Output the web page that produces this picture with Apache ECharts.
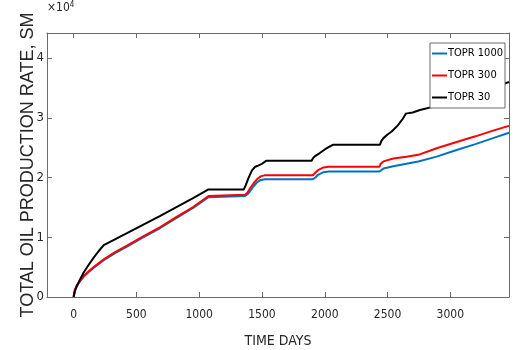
<!DOCTYPE html>
<html>
<head>
<meta charset="utf-8">
<script src="https://cdn.jsdelivr.net/npm/echarts@6/dist/echarts.min.js"></script>
<style>
  html, body { margin: 0; padding: 0; background: #fff; }
  #chart { width: 518px; height: 350px; }
</style>
</head>
<body>
<div id="chart"></div>
<script>
// Cumulative oil production for three TOPR settings (time in days).
const seriesNames = ['TOPR 1000', 'TOPR 300', 'TOPR 30'];

// Shared time samples for the TOPR 1000 and TOPR 300 runs
const daysHigh = [0, 10, 25, 50, 80, 120, 160, 240, 330, 425, 550, 690, 820, 955, 1074,
  1365, 1385, 1405, 1432, 1460, 1490, 1525, 1905, 1925, 1950, 1990, 2030, 2068,
  2435, 2445, 2467, 2546, 2650, 2745, 2891, 3050, 3200, 3340, 3467];

const topr1000 = [0, 1150, 1850, 2600, 3400, 4200, 4900, 6150, 7350, 8450, 9950, 11550, 13250, 14950, 16700,
  16900, 17200, 17700, 18500, 19200, 19600, 19700, 19700, 20000, 20500, 20900, 21000, 21000,
  21000, 21200, 21500, 21900, 22300, 22700, 23500, 24600, 25600, 26600, 27500];

const topr300 = [0, 1200, 1900, 2700, 3500, 4300, 5000, 6300, 7500, 8600, 10100, 11700, 13400, 15100, 16900,
  17100, 17500, 18200, 19000, 19700, 20200, 20400, 20400, 20800, 21300, 21700, 21800, 21800,
  21800, 22300, 22700, 23200, 23500, 23800, 24900, 25950, 26900, 27850, 28650];

// Time samples for the TOPR 30 run
const daysLow = [0, 10, 25, 50, 80, 120, 160, 200, 240, 425, 690, 955, 1074, 1355, 1370, 1392, 1420,
  1446, 1470, 1500, 1533, 1895, 1905, 1923, 1960, 2000, 2040, 2068, 2440, 2450, 2467, 2500,
  2533, 2580, 2620, 2645, 2700, 2758, 2891, 3050, 3200, 3340, 3467];

const topr30 = [0, 1000, 1800, 2900, 4100, 5400, 6600, 7700, 8700, 10700, 13600, 16600, 18000, 18000, 18700, 19900, 21200,
  21800, 22000, 22300, 22800, 22800, 23200, 23600, 24100, 24700, 25200, 25500, 25500, 26100, 26600, 27200,
  27700, 28700, 29800, 30700, 30900, 31300, 32000, 33100, 34150, 35100, 36000];

const xTicks = [0, 500, 1000, 1500, 2000, 2500, 3000];
const yTickStep = 10000;

const colors = ['#0072BD', '#FF0000', '#000000'];
const narrow = '"Liberation Sans Narrow", "DejaVu Sans Condensed", "Liberation Sans", sans-serif';
const regular = '"Liberation Sans", Arial, sans-serif';
const axisGray = '#6b6b6b';
const textColor = '#262626';

const zip = (xs, ys) => xs.map((x, i) => [x, ys[i]]);

const xRange = { min: -212, max: 3467 };
const yRange = { min: 0, max: 44200 };

const chart = echarts.init(document.getElementById('chart'), null, { renderer: 'canvas' });

const tickStyle = { show: true, inside: true, length: 5, lineStyle: { color: axisGray, width: 1 } };
const frameLine = { show: true, onZero: false, lineStyle: { color: axisGray, width: 1 } };

chart.setOption({
  backgroundColor: '#fff',
  animation: false,
  grid: { left: 47, right: 9, top: 33, bottom: 53, containLabel: false, outerBoundsMode: 'none' },
  legend: {
    data: seriesNames,
    orient: 'vertical',
    right: 13,
    top: 43,
    icon: 'rect',
    itemWidth: 15,
    itemHeight: 2,
    itemGap: 11,
    padding: [5, 2, 5, 2],
    backgroundColor: '#fff',
    borderColor: axisGray,
    borderWidth: 1,
    borderRadius: 0,
    textStyle: { fontFamily: narrow, fontSize: 11, color: '#000', padding: [0, 0, 0, -4] }
  },
  xAxis: [
    {
      type: 'value', min: xRange.min, max: xRange.max,
      name: 'TIME DAYS', nameLocation: 'middle', nameGap: 37, nameMoveOverlap: false,
      nameTextStyle: { fontFamily: narrow, fontSize: 14, color: textColor },
      axisLine: frameLine,
      axisTick: Object.assign({ customValues: xTicks }, tickStyle),
      axisLabel: {
        customValues: xTicks, margin: 12, fontFamily: narrow, fontSize: 12, color: textColor,
        formatter: v => String(v)
      },
      splitLine: { show: false }
    },
    {
      type: 'value', position: 'top', min: xRange.min, max: xRange.max,
      axisLine: frameLine,
      axisTick: Object.assign({ customValues: xTicks }, tickStyle),
      axisLabel: { show: false },
      splitLine: { show: false }
    }
  ],
  yAxis: [
    {
      type: 'value', min: yRange.min, max: yRange.max, interval: yTickStep,
      name: 'TOTAL OIL PRODUCTION RATE, SM', nameLocation: 'middle', nameGap: 10, nameRotate: 90,
      nameMoveOverlap: false,
      nameTextStyle: { fontFamily: regular, fontSize: 18, color: textColor },
      axisLine: frameLine,
      axisTick: tickStyle,
      axisLabel: {
        margin: 3, fontFamily: narrow, fontSize: 13, color: textColor,
        formatter: v => String(v / yTickStep),
        showMaxLabel: false
      },
      splitLine: { show: false }
    },
    {
      type: 'value', position: 'right', min: yRange.min, max: yRange.max, interval: yTickStep,
      axisLine: frameLine,
      axisTick: tickStyle,
      axisLabel: { show: false },
      splitLine: { show: false }
    }
  ],
  graphic: [
    {
      type: 'text', left: 47, top: 1,
      style: {
        text: '{b|×10}{s|4}',
        rich: {
          b: { fontFamily: narrow, fontSize: 12, fill: textColor },
          s: { fontFamily: narrow, fontSize: 8, fill: textColor, verticalAlign: 'top', padding: [0, 0, 6, 0] }
        }
      }
    }
  ],
  series: [
    { name: seriesNames[0], data: zip(daysHigh, topr1000), color: colors[0] },
    { name: seriesNames[1], data: zip(daysHigh, topr300), color: colors[1] },
    { name: seriesNames[2], data: zip(daysLow, topr30), color: colors[2] }
  ].map(s => ({
    type: 'line', name: s.name, data: s.data, showSymbol: false, symbol: 'none',
    smooth: false, clip: true,
    itemStyle: { color: s.color },
    lineStyle: { color: s.color, width: 2 }
  }))
});
</script>
</body>
</html>
